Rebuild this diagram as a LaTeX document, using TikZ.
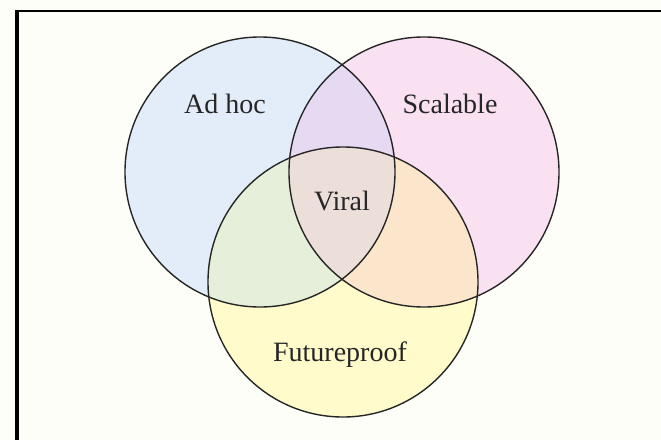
\documentclass[tikz,border=0pt]{standalone}
\usepackage{fontspec}
\setmainfont{Liberation Serif}
\definecolor{bgc}{HTML}{FEFEF8}
\definecolor{cA}{HTML}{E3EDF9}
\definecolor{cB}{HTML}{F9E1F1}
\definecolor{cC}{HTML}{FFFBCB}
\definecolor{cAB}{HTML}{E6DAF2}
\definecolor{cAC}{HTML}{E6EFD9}
\definecolor{cBC}{HTML}{FBE6CB}
\definecolor{cABC}{HTML}{ECDED8}
\begin{document}
\begin{tikzpicture}[x=1pt,y=-1pt,
  ring/.style={draw=black!85,line width=1.4pt},
  lbl/.style={font=\fontsize{28}{30}\selectfont,anchor=base,inner sep=0pt,text=black!85},
  frameline/.style={draw=black}]
\useasboundingbox (0,0) rectangle (661,440);
\fill[bgc] (0,0) rectangle (661,440);
\def\pA{(260,172) circle[radius=135]}
\def\pB{(424,172) circle[radius=135]}
\def\pC{(343,282) circle[radius=135]}
\fill[cA] \pA;
\fill[cB] \pB;
\fill[cC] \pC;
\begin{scope}\clip \pA; \fill[cAB] \pB; \end{scope}
\begin{scope}\clip \pA; \fill[cAC] \pC; \end{scope}
\begin{scope}\clip \pB; \fill[cBC] \pC; \end{scope}
\begin{scope}\clip \pA; \clip \pB; \fill[cABC] \pC; \end{scope}
\draw[ring] \pA;
\draw[ring] \pB;
\draw[ring] \pC;
\coordinate (tl) at (17,11);
\coordinate (tr) at (661,11);
\coordinate (bl) at (17,440);
\draw[frameline,line width=2.2pt] (15,11) -- (tr);
\draw[frameline,line width=4pt] (17,10) -- (bl);
\node[lbl] (adhoc) at (225,113) {Ad hoc};
\node[lbl] (scalable) at (450,113) {Scalable};
\node[lbl] (viral) at (342,210) {Viral};
\node[lbl] (future) at (340,361) {Futureproof};
\end{tikzpicture}
\end{document}
